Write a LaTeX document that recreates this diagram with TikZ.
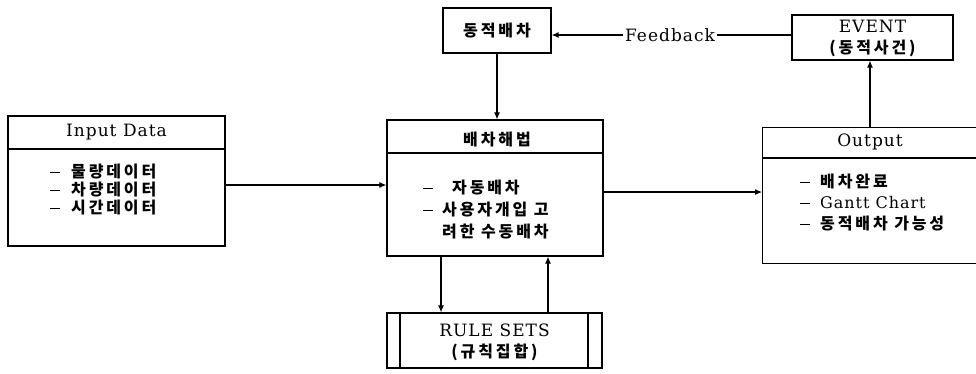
\documentclass[tikz,border=0pt]{standalone}
\usepackage{fontspec}
\setmainfont{DejaVu Serif}
\newfontfamily\lat[LetterSpace=6]{DejaVu Serif}
\newfontfamily\kr[LetterSpace=18]{Noto Sans CJK KR}
\newcommand\dsh{\rule[0.32em]{10pt}{1.3pt}}
\usetikzlibrary{arrows.meta}
\tikzset{
  box/.style={draw, line width=1.3pt, inner sep=0pt},
  conn/.style={line width=1.1pt, -{Latex[length=7pt,width=6pt]}},
  plain/.style={line width=1.1pt},
  ttl/.style={inner sep=0pt, font=\fontsize{17}{19}\lat},
  kt/.style={inner sep=0pt, font=\fontsize{16}{18}\kr\bfseries},
  item/.style={inner sep=0pt, anchor=west, font=\fontsize{16}{18}\kr\bfseries},
}
\begin{document}
\begin{tikzpicture}[x=1pt,y=-1pt]
\useasboundingbox (0,0) rectangle (976,373);
% Input Data
\node[box, minimum width=217pt, minimum height=130pt] (inp) at (116.5,181) {};
\draw[plain] (8,149) -- (225,149);
\node[ttl] (inpt) at (116.5,132) {Input Data};
\node[item] (i1) at (50,172) {\dsh\hspace{11pt}물량데이터};
\node[item] (i2) at (50,190) {\dsh\hspace{11pt}차량데이터};
\node[item] (i3) at (50,208) {\dsh\hspace{11pt}시간데이터};
% Dispatch
\node[box, minimum width=216pt, minimum height=136pt] (dis) at (495,188) {};
\draw[plain] (387,153) -- (603,153);
\node[kt] (dist) at (497,140) {배차해법};
\node[item] (d1) at (423,188) {\dsh\hspace{19pt}자동배차};
\node[item] (d2) at (423,210) {\dsh\hspace{9pt}사용자개입 고};
\node[item] (d3) at (442,232) {려한 수동배차};
% Output
\node[box, minimum width=216pt, minimum height=136pt, anchor=north west] (out) at (762,127) {};
\draw[plain] (762,158) -- (980,158);
\node[ttl] (outt) at (870,142) {Output};
\node[item] (o1) at (800,182) {\dsh\hspace{10pt}배차완료};
\node[item] (o2) at (800,203) {\dsh\hspace{10pt}{\fontsize{16}{18}\lat\mdseries Gantt Chart}};
\node[item] (o3) at (800,224) {\dsh\hspace{10pt}동적배차 가능성};
% EVENT
\node[box, minimum width=161pt, minimum height=45pt] (ev) at (872.5,37.5) {};
\node[ttl] (evt) at (872.5,26) {EVENT};
\node[kt] (evk) at (872.5,48.5) {(동적사건)};
% dynamic dispatch
\node[box, minimum width=108pt, minimum height=45pt] (dyn) at (497,30.5) {};
\node[kt] (dynt) at (497,31) {동적배차};
% Rule sets
\node[box, minimum width=215pt, minimum height=55pt] (rule) at (494.5,340.5) {};
\draw[plain] (400,313) -- (400,368);
\draw[plain] (588,313) -- (588,368);
\node[ttl] (rulet) at (494.5,330) {RULE SETS};
\node[kt] (rulek) at (494.5,352.5) {(규칙집합)};
% connectors
\draw[conn] (inp.east |- 0,185) -- (dis.west |- 0,185);
\draw[conn] (dis.east |- 0,192) -- (out.west |- 0,192);
\draw[conn] (dyn.south) -- (dis.north -| dyn.south);
\draw[conn] (out.north -| 870,0) -- (ev.south -| 870,0);
\draw[conn] (dis.south -| 441,0) -- (rule.north -| 441,0);
\draw[conn] (rule.north -| 548,0) -- (dis.south -| 548,0);
\node[ttl, fill=white, inner xsep=2pt] (fb) at (670,35) {Feedback};
\draw[plain] (ev.west |- 0,35) -- (fb.east);
\draw[conn] (fb.west) -- (dyn.east |- 0,35);
\end{tikzpicture}
\end{document}
